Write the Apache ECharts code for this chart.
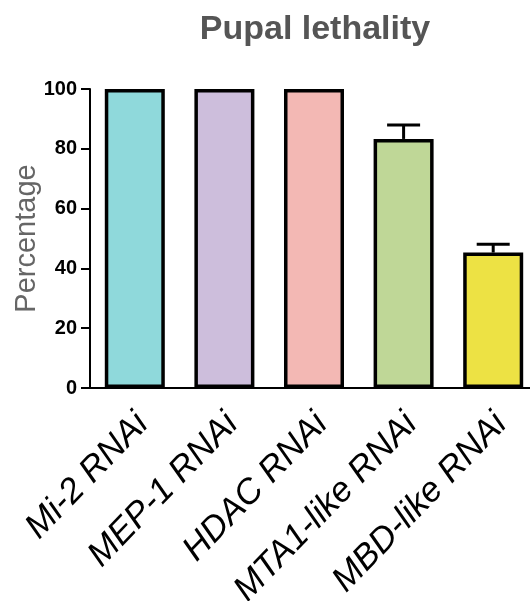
<!DOCTYPE html>
<html>
<head>
<meta charset="utf-8">
<script src="https://cdn.jsdelivr.net/npm/echarts@6/dist/echarts.min.js"></script>
<style>html,body{margin:0;padding:0;background:#fff;}#c{width:530px;height:601px;}</style>
</head>
<body>
<div id="c"></div>
<script>
const categories = ['Mi-2 RNAi', 'MEP-1 RNAi', 'HDAC RNAi', 'MTA1-like RNAi', 'MBD-like RNAi'];
const means = [100, 100, 100, 83.3, 45.3];
const errors = [0, 0, 0, 4.7, 2.8];
const barColors = ['#8fd9db', '#cdbedc', '#f3b8b4', '#bfd797', '#ede244'];
const yTicks = [0, 20, 40, 60, 80, 100];

const chart = echarts.init(document.getElementById('c'));
const font = 'Liberation Sans, Arial, Helvetica, sans-serif';
chart.setOption({
  animation: false,
  backgroundColor: '#fff',
  title: {
    text: 'Pupal lethality',
    left: 310, top: 8, textAlign: 'center',
    textStyle: { fontFamily: font, fontSize: 34, fontWeight: 'bold', color: '#555' }
  },
  grid: { left: 90, top: 89, width: 448, bottom: 213, containLabel: false, outerBoundsMode: 'none' },
  xAxis: {
    type: 'category',
    data: categories,
    axisLine: { lineStyle: { color: '#000', width: 2 } },
    axisTick: { alignWithLabel: true, length: 9, lineStyle: { color: '#000', width: 2 } },
    axisLabel: {
      rotate: 46, interval: 0, margin: 23,
      align: 'right', verticalAlign: 'top', lineHeight: 22,
      fontFamily: font, fontSize: 35, fontStyle: 'italic', color: '#000'
    }
  },
  yAxis: {
    type: 'value', min: 0, max: 100, interval: 20,
    name: 'Percentage', nameLocation: 'middle', nameGap: 49, nameMoveOverlap: false,
    nameTextStyle: { fontFamily: font, fontSize: 29, color: '#666' },
    axisLine: { show: true, lineStyle: { color: '#000', width: 2 } },
    axisTick: { show: true, length: 9, lineStyle: { color: '#000', width: 2 } },
    axisLabel: {
      fontFamily: font, fontSize: 20, fontWeight: 'bold', color: '#000', margin: 13,
      formatter: v => yTicks.includes(v) ? String(v) : ''
    },
    splitLine: { show: false }
  },
  series: [
    {
      type: 'bar',
      barWidth: 60,
      data: means.map((v, i) => ({
        value: v,
        itemStyle: { color: barColors[i], borderColor: '#000', borderWidth: 3.5 }
      })),
      z: 2
    },
    {
      type: 'custom',
      z: 3,
      data: means.map((v, i) => [i, v, errors[i]]),
      renderItem: function (params, api) {
        const x = api.value(0), m = api.value(1), e = api.value(2);
        if (!e) return null;
        const p0 = api.coord([x, m]);
        const p1 = api.coord([x, m + e]);
        const st = { stroke: '#000', lineWidth: 3 };
        return {
          type: 'group',
          children: [
            { type: 'line', shape: { x1: p0[0], y1: p0[1], x2: p1[0], y2: p1[1] }, style: st },
            { type: 'line', shape: { x1: p1[0] - 16.5, y1: p1[1], x2: p1[0] + 16.5, y2: p1[1] }, style: st }
          ]
        };
      }
    }
  ]
});
</script>
</body>
</html>
